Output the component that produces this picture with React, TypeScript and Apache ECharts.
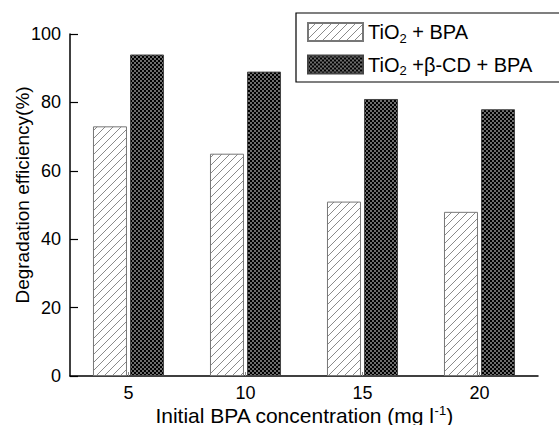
import React, { useEffect, useRef } from "react";
import * as echarts from "echarts";

const categories = ["5", "10", "15", "20"];
const tio2Bpa = [73, 65, 51, 48];
const tio2CdBpa = [94, 89, 81, 78];
const seriesNames = ["TiO2 + BPA", "TiO2 +β-CD + BPA"];
const yTicks = { min: 0, max: 100, interval: 20 };

function makeHatch() {
  const c = document.createElement("canvas");
  c.width = 8;
  c.height = 8;
  const g = c.getContext("2d")!;
  g.fillStyle = "#ffffff";
  g.fillRect(0, 0, 8, 8);
  g.strokeStyle = "#8a8a8a";
  g.lineWidth = 1;
  g.beginPath();
  g.moveTo(-1, 9);
  g.lineTo(9, -1);
  g.moveTo(-1, 1);
  g.lineTo(1, -1);
  g.moveTo(7, 9);
  g.lineTo(9, 7);
  g.stroke();
  return c.toDataURL();
}

function makeDots() {
  const c = document.createElement("canvas");
  c.width = 4;
  c.height = 4;
  const g = c.getContext("2d")!;
  g.fillStyle = "#000000";
  g.fillRect(0, 0, 4, 4);
  g.fillStyle = "#ffffff";
  g.beginPath();
  g.arc(1, 1, 0.8, 0, Math.PI * 2);
  g.arc(3, 3, 0.8, 0, Math.PI * 2);
  g.fill();
  return c.toDataURL();
}

export default function App() {
  const ref = useRef<HTMLDivElement>(null);
  useEffect(() => {
    const chart = echarts.init(ref.current!, null, { renderer: "svg" });
    const hatch = { image: makeHatch(), repeat: "repeat", imageWidth: 8, imageHeight: 8 } as any;
    const dots = { image: makeDots(), repeat: "repeat", imageWidth: 4, imageHeight: 4 } as any;
    const font = "Liberation Sans";
    chart.setOption({
      animation: false,
      backgroundColor: "#ffffff",
      textStyle: { fontFamily: font },
      grid: { left: 70, right: 21, top: 34, bottom: 49, containLabel: false, outerBoundsMode: "none" },
      legend: {
        orient: "vertical",
        left: 307,
        top: 22,
        padding: 0,
        itemWidth: 55,
        itemHeight: 18,
        itemGap: 10,
        icon: "rect",
        data: seriesNames,
        formatter: (n: string) => n.replace("TiO2", "TiO{sub|2}"),
        textStyle: {
          fontFamily: font,
          fontSize: 20,
          color: "#000",
          rich: {
            sub: { fontFamily: font, fontSize: 13, color: "#000", verticalAlign: "bottom", padding: [12, 0, 0, 0] },
          },
        },
      },
      graphic: [
        {
          type: "rect",
          shape: { x: 296, y: 13, width: 275, height: 69 },
          style: { fill: "none", stroke: "#000", lineWidth: 1.2 },
          z: 10,
        },
      ],
      xAxis: {
        type: "category",
        data: categories,
        name: "Initial BPA concentration (mg l{sup|-1})",
        nameLocation: "middle",
        nameGap: 28,
        nameMoveOverlap: false,
        nameTextStyle: {
          fontFamily: font,
          fontSize: 21,
          color: "#000",
          rich: {
            sup: { fontFamily: font, fontSize: 13, color: "#000", verticalAlign: "top", padding: [0, 0, 9, 0] },
          },
        },
        axisLine: { lineStyle: { color: "#000", width: 1.5 } },
        axisTick: { show: true, inside: true, alignWithLabel: true, length: 4, lineStyle: { color: "#888" } },
        axisLabel: { fontFamily: font, fontSize: 18, color: "#000", margin: 8 },
      },
      yAxis: {
        type: "value",
        min: yTicks.min,
        max: yTicks.max,
        interval: yTicks.interval,
        name: "Degradation efficiency(%)",
        nameLocation: "middle",
        nameGap: 38,
        nameMoveOverlap: false,
        nameTextStyle: { fontFamily: font, fontSize: 19, color: "#000", padding: [0, 0, 0, 20] },
        axisLine: { show: true, lineStyle: { color: "#000", width: 1.5 } },
        axisTick: { show: true, inside: true, length: 8, lineStyle: { color: "#000", width: 1.2 } },
        axisLabel: { fontFamily: font, fontSize: 18, color: "#000", margin: 9 },
        splitLine: { show: false },
      },
      series: [
        {
          name: seriesNames[0],
          type: "bar",
          data: tio2Bpa,
          barWidth: 34,
          barGap: "9%",
          itemStyle: { color: hatch, borderColor: "#777", borderWidth: 1 },
        },
        {
          name: seriesNames[1],
          type: "bar",
          data: tio2CdBpa,
          barWidth: 34,
          itemStyle: { color: dots, borderColor: "#444", borderWidth: 1 },
        },
      ],
    });
    return () => chart.dispose();
  }, []);
  return <div ref={ref} style={{ width: 559, height: 425, position: "absolute", left: 0, top: 0 }} />;
}
